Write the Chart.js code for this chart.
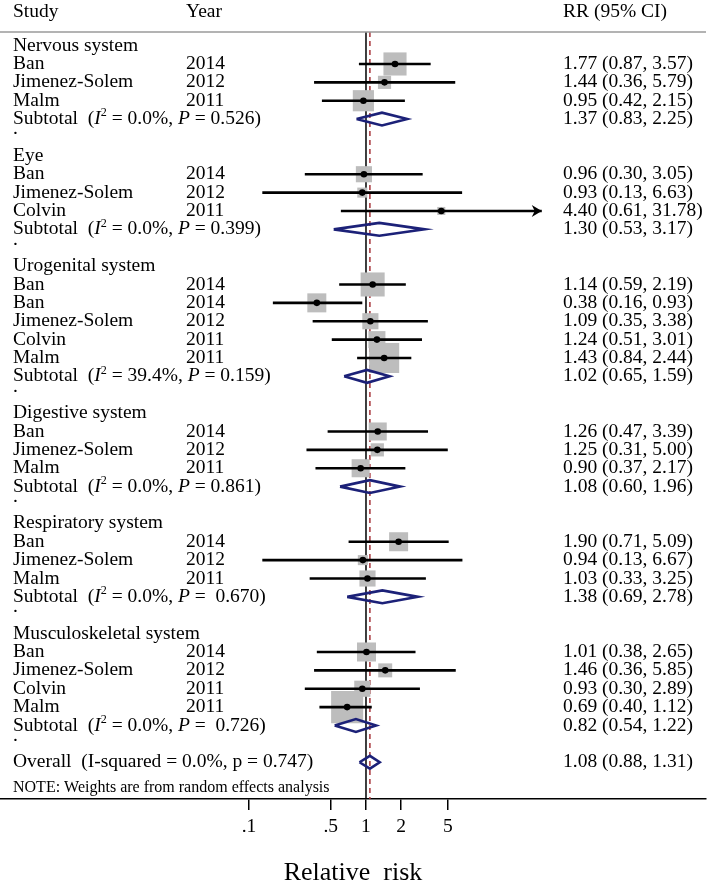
<!DOCTYPE html>
<html>
<head>
<meta charset="utf-8">
<script src="https://cdn.jsdelivr.net/npm/chart.js"></script>
<style>
  html, body { margin: 0; padding: 0; background: #fff; }
  canvas { display: block; }
</style>
</head>
<body>
<canvas id="forest" width="709" height="882"></canvas>
<script>
// subgroups and studies, in the order they appear in the plot
const groups = ['Nervous system', 'Eye', 'Urogenital system', 'Digestive system', 'Respiratory system', 'Musculoskeletal system']
const groupOf = [0, 0, 0, 1, 1, 1, 2, 2, 2, 2, 2, 3, 3, 3, 4, 4, 4, 5, 5, 5, 5]
const studyNames = ['Ban', 'Jimenez-Solem', 'Malm', 'Ban', 'Jimenez-Solem', 'Colvin', 'Ban', 'Ban', 'Jimenez-Solem', 'Colvin', 'Malm',
  'Ban', 'Jimenez-Solem', 'Malm', 'Ban', 'Jimenez-Solem', 'Malm', 'Ban', 'Jimenez-Solem', 'Colvin', 'Malm']
const years = [2014, 2012, 2011, 2014, 2012, 2011, 2014, 2014, 2012, 2011, 2011, 2014, 2012, 2011, 2014, 2012, 2011, 2014, 2012, 2011, 2011]
const rr = [1.77, 1.44, 0.95, 0.96, 0.93, 4.40, 1.14, 0.38, 1.09, 1.24, 1.43, 1.26, 1.25, 0.90, 1.90, 0.94, 1.03, 1.01, 1.46, 0.93, 0.69]
const lower = [0.87, 0.36, 0.42, 0.30, 0.13, 0.61, 0.59, 0.16, 0.35, 0.51, 0.84, 0.47, 0.31, 0.37, 0.71, 0.13, 0.33, 0.38, 0.36, 0.30, 0.40]
const upper = [3.57, 5.79, 2.15, 3.05, 6.63, 31.78, 2.19, 0.93, 3.38, 3.01, 2.44, 3.39, 5.00, 2.17, 5.09, 6.67, 3.25, 2.65, 5.85, 2.89, 1.12]
// weights (%)
const weights = [7.4, 2.4, 6.2, 3.6, 1.4, 0.9, 8.0, 5.0, 3.6, 4.0, 12.5, 4.5, 2.4, 4.5, 5.0, 1.4, 3.6, 5.0, 2.7, 3.6, 14.2]

// subgroup pooled estimates
const subRR = [1.37, 1.30, 1.02, 1.08, 1.38, 0.82]
const subLower = [0.83, 0.53, 0.65, 0.60, 0.69, 0.54]
const subUpper = [2.25, 3.17, 1.59, 1.96, 2.78, 1.22]
const subI2 = ['0.0%', '0.0%', '39.4%', '0.0%', '0.0%', '0.0%']
const subP = ['0.526', '0.399', '0.159', '0.861', ' 0.670', ' 0.726']

const overallRR = 1.08
const overallLower = 0.88
const overallUpper = 1.31
const overallI2 = '0.0%'
const overallP = '0.747'

const tickValues = [0.1, 0.5, 1, 2, 5]
const tickLabels = ['.1', '.5', '1', '2', '5']

const FONT = '"Liberation Serif", "Times New Roman", serif'
const NAVY = '#1c2178'

// work out which row every line of the table sits on
const headerRow = [], subRow = [], dotRow = [], studyRow = []
let r = 0
groups.forEach((g, gi) => {
  headerRow.push(r++)
  groupOf.forEach((gg, i) => { if (gg === gi) studyRow[i] = r++ })
  subRow.push(r++)
  dotRow.push(r++)
})
const overallRow = r
const noteRow = r + 1.4

const yMin = -0.74
const yMax = 41.0

function ciData() {
  const pts = []
  rr.forEach((v, i) => {
    pts.push({ x: lower[i], y: studyRow[i] }, { x: upper[i], y: studyRow[i] }, { x: null, y: null })
  })
  return pts
}

function diamondData() {
  const pts = []
  const h = 0.35
  const add = (est, lo, hi, row) => {
    pts.push({ x: lo, y: row }, { x: est, y: row - h }, { x: hi, y: row }, { x: est, y: row + h }, { x: lo, y: row }, { x: null, y: null })
  }
  subRR.forEach((v, j) => add(v, subLower[j], subUpper[j], subRow[j]))
  add(overallRR, overallLower, overallUpper, overallRow)
  return pts
}

function drawRuns(ctx, runs, x, y, size) {
  runs.forEach(([text, style]) => {
    if (style === 'sup') {
      ctx.font = `${size * 0.62}px ${FONT}`
      ctx.fillText(text, x, y - size * 0.3)
    } else {
      ctx.font = `${style === 'i' ? 'italic ' : ''}${size}px ${FONT}`
      ctx.fillText(text, x, y)
    }
    x += ctx.measureText(text).width
  })
}

const fmt = (v) => v.toFixed(2)

const tablePlugin = {
  id: 'forestTable',
  afterDraw(chart) {
    const { ctx, chartArea, scales: { x, y } } = chart
    const size = 19.5
    const colStudy = 13, colYear = 186, colRR = 563
    ctx.save()
    ctx.fillStyle = '#000'
    ctx.textAlign = 'left'
    ctx.textBaseline = 'middle'
    ctx.font = `${size}px ${FONT}`

    // header
    const hy = chartArea.top - 20
    ctx.fillText('Study', colStudy, hy)
    ctx.fillText('Year', colYear, hy)
    ctx.fillText('RR (95% CI)', colRR, hy)
    ctx.strokeStyle = '#9a9a9a'
    ctx.lineWidth = 1.5
    ctx.beginPath()
    ctx.moveTo(0, chartArea.top)
    ctx.lineTo(chartArea.right, chartArea.top)
    ctx.stroke()

    groups.forEach((g, gi) => {
      ctx.font = `${size}px ${FONT}`
      ctx.fillText(g, colStudy, y.getPixelForValue(headerRow[gi]))
      const sy = y.getPixelForValue(subRow[gi])
      drawRuns(ctx, [['Subtotal  (', ''], ['I', 'i'], ['2', 'sup'], [` = ${subI2[gi]}, `, ''], ['P', 'i'], [` = ${subP[gi]})`, '']], colStudy, sy, size)
      ctx.font = `${size}px ${FONT}`
      ctx.fillText(`${fmt(subRR[gi])} (${fmt(subLower[gi])}, ${fmt(subUpper[gi])})`, colRR, sy)
      ctx.textBaseline = 'alphabetic'
      ctx.fillText('.', colStudy, y.getPixelForValue(dotRow[gi]) - 3)
      ctx.textBaseline = 'middle'
    })

    ctx.font = `${size}px ${FONT}`
    studyNames.forEach((s, i) => {
      const py = y.getPixelForValue(studyRow[i])
      ctx.fillText(s, colStudy, py)
      ctx.fillText(String(years[i]), colYear, py)
      ctx.fillText(`${fmt(rr[i])} (${fmt(lower[i])}, ${fmt(upper[i])})`, colRR, py)
    })

    const oy = y.getPixelForValue(overallRow)
    ctx.fillText(`Overall  (I-squared = ${overallI2}, p = ${overallP})`, colStudy, oy)
    ctx.fillText(`${fmt(overallRR)} (${fmt(overallLower)}, ${fmt(overallUpper)})`, colRR, oy)

    ctx.font = `16px ${FONT}`
    ctx.fillText('NOTE: Weights are from random effects analysis', colStudy, y.getPixelForValue(noteRow))

    // arrow heads for intervals that run off the shown range
    ctx.fillStyle = '#000'
    upper.forEach((u, i) => {
      if (u < 10) return
      const tx = x.getPixelForValue(u)
      const ty = y.getPixelForValue(studyRow[i])
      ctx.beginPath()
      ctx.moveTo(tx, ty)
      ctx.lineTo(tx - 10, ty - 6)
      ctx.lineTo(tx - 7, ty)
      ctx.lineTo(tx - 10, ty + 6)
      ctx.closePath()
      ctx.fill()
    })
    ctx.restore()
  }
}

new Chart(document.getElementById('forest'), {
  type: 'scatter',
  data: {
    datasets: [
      {
        label: 'null',
        data: [{ x: 1, y: yMin }, { x: 1, y: yMax }],
        showLine: true,
        borderColor: '#000',
        borderWidth: 1.5,
        pointRadius: 0,
        order: 10
      },
      {
        label: 'overall',
        data: [{ x: overallRR, y: yMin }, { x: overallRR, y: yMax }],
        showLine: true,
        borderColor: '#a6343a',
        borderWidth: 1.5,
        borderDash: [5, 4],
        pointRadius: 0,
        order: 9
      },
      {
        label: 'weights',
        data: rr.map((v, i) => ({ x: v, y: studyRow[i] })),
        pointStyle: 'rect',
        pointRadius: weights.map(w => 8.5 * Math.sqrt(w) / Math.SQRT2),
        backgroundColor: '#bdbdbd',
        borderWidth: 0,
        order: 5
      },
      {
        label: 'ci',
        data: ciData(),
        showLine: true,
        spanGaps: false,
        borderColor: '#000',
        borderWidth: 2.6,
        pointRadius: 0,
        order: 4
      },
      {
        label: 'pooled',
        data: diamondData(),
        showLine: true,
        spanGaps: false,
        borderColor: NAVY,
        borderWidth: 2.6,
        borderJoinStyle: 'miter',
        fill: false,
        pointRadius: 0,
        order: 3
      },
      {
        label: 'rr',
        data: rr.map((v, i) => ({ x: v, y: studyRow[i] })),
        pointStyle: 'circle',
        pointRadius: 3.3,
        backgroundColor: '#000',
        borderWidth: 0,
        order: 1
      }
    ]
  },
  options: {
    responsive: false,
    animation: false,
    events: [],
    layout: { autoPadding: false, padding: { top: 32, right: 3, left: 0, bottom: 0 } },
    plugins: {
      legend: { display: false },
      tooltip: { enabled: false }
    },
    scales: {
      x: {
        type: 'logarithmic',
        position: 'bottom',
        bounds: 'data',
        min: 0.000745,
        max: 805,
        afterBuildTicks: (axis) => { axis.ticks = tickValues.map(v => ({ value: v })) },
        afterFit: (axis) => {
          axis.height = 83
          axis.paddingLeft = 0
          axis.paddingRight = 0
        },
        border: { display: true, color: '#000', width: 1.5 },
        grid: { display: true, drawOnChartArea: false, drawTicks: true, tickLength: 11, color: '#000', lineWidth: 1.5 },
        ticks: {
          autoSkip: false,
          maxRotation: 0,
          padding: 5,
          color: '#000',
          font: { family: FONT, size: 19.5 },
          callback: (value, index) => tickLabels[index]
        },
        title: {
          display: true,
          text: 'Relative  risk',
          color: '#000',
          padding: 0,
          font: { family: FONT, size: 26, lineHeight: 0.7 }
        }
      },
      y: {
        type: 'linear',
        display: false,
        reverse: true,
        min: yMin,
        max: yMax
      }
    }
  },
  plugins: [tablePlugin]
})
</script>
</body>
</html>
